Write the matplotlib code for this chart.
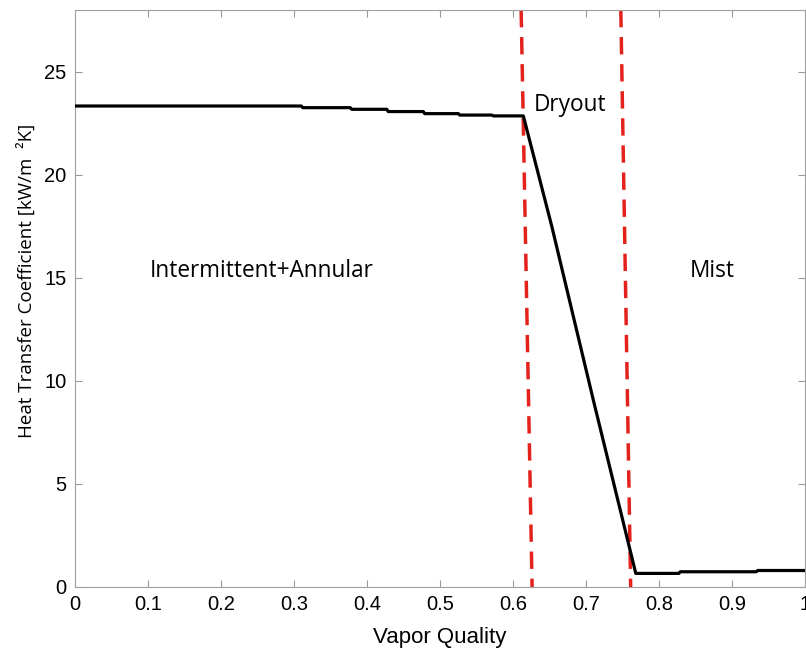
import numpy as np
import matplotlib
matplotlib.use("Agg")
import matplotlib.pyplot as plt

# heat transfer coefficient vs vapor quality
quality = [0.0, 0.31, 0.312, 0.377, 0.379, 0.427, 0.429, 0.477, 0.479, 0.525, 0.527,
           0.571, 0.573, 0.614, 0.653, 0.71, 0.768, 0.827, 0.829, 0.933, 0.935, 1.0]
htc = [23.34, 23.34, 23.26, 23.26, 23.18, 23.18, 23.07, 23.07, 22.97, 22.97, 22.9,
       22.9, 22.86, 22.86, 17.5, 9.05, 0.66, 0.66, 0.74, 0.74, 0.8, 0.8]

# regime boundaries (drawn slightly slanted in the original)
bound1 = [0.611, 0.626]
bound2 = [0.7475, 0.761]
ylim = [0, 28]

regions = ["Intermittent+Annular", "Dryout", "Mist"]
region_x = [0.256, 0.678, 0.873]
region_y = [15.35, 23.4, 15.35]

fig = plt.figure(figsize=(8.06, 6.52), dpi=100)
ax = fig.add_axes([0.093, 0.0997, 0.906, 0.885])

ax.plot(quality, htc, color='black', linewidth=2.3, zorder=3)
for b in (bound1, bound2):
    ax.plot([b[0], b[1]], [ylim[1], ylim[0]], color='#e3221c', linewidth=2.5,
            dashes=(5, 2.8), zorder=2)

for t, x, y in zip(regions, region_x, region_y):
    ax.text(x, y, t, ha='center', va='center', fontsize=16.3, family='Open Sans')

ax.set_xlim(0, 1)
ax.set_ylim(ylim)
ax.set_xticks(np.arange(0, 1.01, 0.1))
ax.set_xticklabels(['0', '0.1', '0.2', '0.3', '0.4', '0.5', '0.6', '0.7', '0.8', '0.9', '1'])
ax.set_yticks([0, 5, 10, 15, 20, 25])
ax.tick_params(direction='in', top=True, right=True, length=5, width=0.8,
               color='#999999', labelsize=14.5, pad=6)
for lbl in ax.get_xticklabels() + ax.get_yticklabels():
    lbl.set_family('Liberation Sans')
for s in ax.spines.values():
    s.set_color('#a0a0a0')
    s.set_linewidth(0.8)

ax.set_xlabel('Vapor Quality', fontsize=16, family='Liberation Sans')
ax.set_ylabel('Heat Transfer Coefficient [kW/m  \u00b2K]', fontsize=13.5,
              family='Open Sans')
ax.xaxis.set_label_coords(0.5, -0.07)
ax.yaxis.set_label_coords(-0.053, 0.53)

fig.savefig('out.png', dpi=100)
